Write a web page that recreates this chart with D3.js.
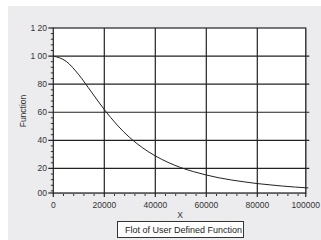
<!DOCTYPE html>
<html><head><meta charset="utf-8">
<script src="https://cdn.jsdelivr.net/npm/d3@7"></script>
<style>html,body{margin:0;padding:0;background:#fff;}svg{display:block;}</style>
</head><body>
<script>
const xValues = [0,5000,10000,15000,20000,25000,30000,35000,40000,45000,50000,55000,60000,65000,70000,75000,80000,85000,90000,95000,100000];
const yValues = [100,96.3,86.7,74.3,61.9,51.0,41.9,34.7,28.9,24.3,20.6,17.7,15.3,13.3,11.7,10.4,9.2,8.3,7.4,6.7,6.1];
const xTickValues = [0,20000,40000,60000,80000,99000];
const xTickLabels = ["0","20000","40000","60000","80000","100000"];
const yTickValues = [2.5,20,40,60,80,100,120];
const yTickLabels = ["00","20","40","60","80","1 00","1 20"];
const legendLabel = "Flot of User Defined Function";

const W=321,H=240;
const svg=d3.select("body").append("svg").attr("width",W).attr("height",H);
svg.append("rect").attr("x",8).attr("y",6).attr("width",W-8).attr("height",H-6).attr("fill","#ececee");

const x=d3.scaleLinear().domain([0,100000]).range([53.3,308.3]);
const y=d3.scaleLinear().domain([0,120]).range([196.5,28]);
const xMax=99000, yMin=2.5;
const L=x(0),R=x(xMax),T=y(120),B=y(yMin);
const font="Liberation Sans, Arial, sans-serif";
const ink="#222";

svg.append("rect").attr("x",L+1).attr("y",T+1).attr("width",R-L).attr("height",B-T).attr("fill","#b8b8bc");
svg.append("rect").attr("x",L).attr("y",T).attr("width",R-L).attr("height",B-T).attr("fill","#fff");

const g=svg.append("g");
xTickValues.slice(1,-1).forEach(v=>{
  g.append("line").attr("x1",x(v)).attr("x2",x(v)).attr("y1",T).attr("y2",B+4).attr("stroke",ink).attr("stroke-width",1.2);
});
yTickValues.slice(1,-1).forEach(v=>{
  g.append("line").attr("x1",L-5).attr("x2",x(100000)+1).attr("y1",y(v)).attr("y2",y(v)).attr("stroke",ink).attr("stroke-width",1.2);
});
d3.range(4000,xMax,4000).forEach(v=>{
  if(v%20000!==0) g.append("line").attr("x1",x(v)).attr("x2",x(v)).attr("y1",B+1).attr("y2",B+3).attr("stroke","#333").attr("stroke-width",1);
});
d3.range(4,120,4).forEach(v=>{
  if(v%20!==0 && v>yMin) g.append("line").attr("x1",L-2.5).attr("x2",L).attr("y1",y(v)).attr("y2",y(v)).attr("stroke","#333").attr("stroke-width",1);
});
g.append("line").attr("x1",L).attr("x2",L).attr("y1",B).attr("y2",B+4).attr("stroke",ink).attr("stroke-width",1.2);
g.append("line").attr("x1",R).attr("x2",R).attr("y1",B).attr("y2",B+4).attr("stroke",ink).attr("stroke-width",1.2);
g.append("line").attr("x1",L-5).attr("x2",L).attr("y1",T).attr("y2",T).attr("stroke",ink).attr("stroke-width",1.2);
g.append("line").attr("x1",L-5).attr("x2",L).attr("y1",B).attr("y2",B).attr("stroke",ink).attr("stroke-width",1.2);
g.append("rect").attr("x",L).attr("y",T).attr("width",R-L).attr("height",B-T).attr("fill","none").attr("stroke",ink).attr("stroke-width",1.2);

const line=d3.line().x((d,i)=>x(xValues[i])).y(d=>y(d)).curve(d3.curveMonotoneX);
svg.append("path").datum(yValues).attr("d",line).attr("fill","none").attr("stroke","#222").attr("stroke-width",1);

xTickValues.forEach((v,i)=>{
  svg.append("text").attr("x",x(v)).attr("y",208).attr("text-anchor","middle").attr("font-family",font).attr("font-size",8.5).attr("fill","#333").text(xTickLabels[i]);
});
yTickValues.forEach((v,i)=>{
  svg.append("text").attr("x",47).attr("y",y(v)+3).attr("text-anchor","end").attr("font-family",font).attr("font-size",8.5).attr("fill","#333").text(yTickLabels[i]);
});
svg.append("text").attr("x",180).attr("y",218).attr("text-anchor","middle").attr("font-family",font).attr("font-size",8.5).attr("fill","#333").text("X");
svg.append("text").attr("transform","translate(25.5,111) rotate(-90)").attr("text-anchor","middle").attr("font-family",font).attr("font-size",8.5).attr("fill","#333").text("Function");

svg.append("rect").attr("x",117.5).attr("y",221.5).attr("width",126).attr("height",16).attr("fill","#fff").attr("stroke","#333").attr("stroke-width",1);
svg.append("text").attr("x",125).attr("y",232.5).attr("font-family",font).attr("font-size",9).attr("fill","#222").text(legendLabel);
</script>
</body></html>
